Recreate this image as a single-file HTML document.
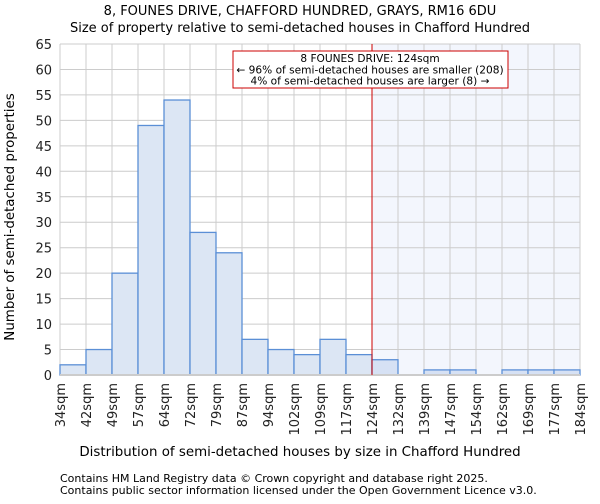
<!DOCTYPE html>
<html><head><meta charset="utf-8"><style>
body{margin:0;background:#fff;font-family:"DejaVu Sans","Liberation Sans",sans-serif}
</style></head><body>
<svg id="c" width="600" height="500" xmlns="http://www.w3.org/2000/svg" font-family="DejaVu Sans, Liberation Sans, sans-serif">
<text x="300" y="15" font-size="13" text-anchor="middle">8, FOUNES DRIVE, CHAFFORD HUNDRED, GRAYS, RM16 6DU</text>
<text x="300" y="32" font-size="13" text-anchor="middle">Size of property relative to semi-detached houses in Chafford Hundred</text>
<g id="plot"></g>
<text x="300" y="456" font-size="13.4" text-anchor="middle">Distribution of semi-detached houses by size in Chafford Hundred</text>
<text transform="translate(14,217) rotate(-90)" font-size="13.4" text-anchor="middle">Number of semi-detached properties</text>
<text x="60" y="482" font-size="11">Contains HM Land Registry data © Crown copyright and database right 2025.</text>
<text x="60" y="494" font-size="11">Contains public sector information licensed under the Open Government Licence v3.0.</text>
</svg>
<script>
const categories=["34sqm","42sqm","49sqm","57sqm","64sqm","72sqm","79sqm","87sqm","94sqm","102sqm","109sqm","117sqm","124sqm","132sqm","139sqm","147sqm","154sqm","162sqm","169sqm","177sqm","184sqm"];
const counts=[2,5,20,49,54,28,24,7,5,4,7,4,3,0,1,1,0,1,1,1];
const yTicks=[0,5,10,15,20,25,30,35,40,45,50,55,60,65];
const markerIndex=12;
const annotation=["8 FOUNES DRIVE: 124sqm","← 96% of semi-detached houses are smaller (208)","4% of semi-detached houses are larger (8) →"];
const L=60,R=580,T=44,B=375,yMax=65;
const ns="http://www.w3.org/2000/svg";
const g=document.getElementById('plot');
const bw=(R-L)/counts.length;
const x=i=>L+i*bw, y=v=>B-(v/yMax)*(B-T);
function mk(t,a,p){const e=document.createElementNS(ns,t);for(const k in a)e.setAttribute(k,a[k]);(p||g).appendChild(e);return e;}
let s=mk('rect',{x:x(markerIndex),y:T,width:R-x(markerIndex),height:B-T,fill:'#f3f6fd'});


yTicks.forEach(v=>{let l=mk('line',{x1:L,x2:R,y1:y(v),y2:y(v),stroke:'#ccc'});


let t=mk('text',{x:L-8,y:y(v)+5,'font-size':13,'text-anchor':'end',fill:'#222'});t.textContent=v;

});
categories.forEach((c,i)=>{let l=mk('line',{x1:x(i),x2:x(i),y1:T,y2:B,stroke:'#ccc'});


let t=mk('text',{transform:`translate(${x(i)+5},${B+8}) rotate(-90)`,'font-size':13,'text-anchor':'end',fill:'#222'});t.textContent=c;

});
counts.forEach((v,i)=>{if(!v)return;let r=mk('rect',{x:x(i),y:y(v),width:bw,height:B-y(v),fill:i<markerIndex?'#dce6f4':'#d6e1f4',stroke:'#5b8fd6','stroke-width':1.3});

});
let ax=mk('line',{x1:L,x2:R,y1:B,y2:B,stroke:'#ccc','stroke-width':2});


let ml=mk('line',{x1:x(markerIndex),x2:x(markerIndex),y1:T,y2:B,stroke:'#cc0000','stroke-width':1});


let box=mk('rect',{x:233,y:51,width:275,height:37,fill:'#fff',stroke:'#cc0000'});


annotation.forEach((a,i)=>{let t=mk('text',{x:370,y:62+i*11.3,'font-size':10.6,'text-anchor':'middle'});t.textContent=a;

});
</script>
</body></html>
